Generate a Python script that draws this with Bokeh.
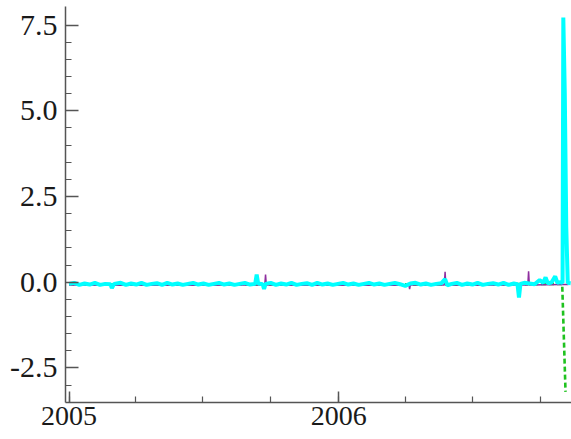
import pandas as pd
from bokeh.plotting import figure
from bokeh.models import Range1d, FixedTicker, DatetimeTickFormatter, PrintfTickFormatter
from bokeh.embed import file_html
from bokeh.resources import INLINE

# ---- data ----
cyan_dates = ["2005-01-01", "2005-01-08", "2005-01-15", "2005-01-22", "2005-01-29", "2005-02-05",
              "2005-02-12", "2005-02-19", "2005-02-26", "2005-02-28", "2005-03-03", "2005-03-12",
              "2005-03-19", "2005-03-26", "2005-04-02", "2005-04-09", "2005-04-16", "2005-04-23",
              "2005-04-30", "2005-05-07", "2005-05-14", "2005-05-21", "2005-05-28", "2005-06-04",
              "2005-06-11", "2005-06-18", "2005-06-25", "2005-07-02", "2005-07-09", "2005-07-16",
              "2005-07-23", "2005-07-30", "2005-08-06", "2005-08-13", "2005-08-20", "2005-08-27",
              "2005-09-03", "2005-09-10", "2005-09-12", "2005-09-14", "2005-09-20", "2005-09-22",
              "2005-09-24", "2005-10-01", "2005-10-08", "2005-10-15", "2005-10-22", "2005-10-29",
              "2005-11-05", "2005-11-12", "2005-11-19", "2005-11-26", "2005-12-03", "2005-12-10",
              "2005-12-17", "2005-12-24", "2005-12-31", "2006-01-07", "2006-01-14", "2006-01-21",
              "2006-01-28", "2006-02-04", "2006-02-11", "2006-02-18", "2006-02-25", "2006-03-04",
              "2006-03-11", "2006-03-18", "2006-03-25", "2006-04-01", "2006-04-08", "2006-04-15",
              "2006-04-22", "2006-04-29", "2006-05-06", "2006-05-13", "2006-05-20", "2006-05-25",
              "2006-05-28", "2006-06-03", "2006-06-10", "2006-06-17", "2006-06-24", "2006-07-01",
              "2006-07-08", "2006-07-15", "2006-07-22", "2006-07-29", "2006-08-05", "2006-08-12",
              "2006-08-19", "2006-08-26", "2006-08-31", "2006-09-02", "2006-09-04", "2006-09-09",
              "2006-09-16", "2006-09-23", "2006-09-30", "2006-10-05", "2006-10-08", "2006-10-11",
              "2006-10-16", "2006-10-21", "2006-10-24", "2006-10-28", "2006-10-31", "2006-11-01",
              "2006-11-03", "2006-11-05", "2006-11-07", "2006-11-11"]
cyan_vals = [-0.05, -0.02, -0.08, -0.04, -0.07, -0.02,
             -0.08, -0.05, -0.06, -0.17, -0.05, -0.02,
             -0.08, -0.04, -0.07, -0.02, -0.08, -0.05,
             -0.03, -0.08, -0.02, -0.07, -0.04, -0.08,
             -0.05, -0.02, -0.07, -0.04, -0.08, -0.05,
             -0.02, -0.07, -0.04, -0.08, -0.05, -0.02,
             -0.07, -0.05, 0.22, -0.04, -0.06, -0.20,
             -0.05, -0.02, -0.08, -0.04, -0.07, -0.02,
             -0.08, -0.05, -0.03, -0.08, -0.02, -0.07,
             -0.04, -0.08, -0.05, -0.02, -0.07, -0.04,
             -0.08, -0.05, -0.02, -0.07, -0.04, -0.08,
             -0.05, -0.02, -0.06, -0.11, -0.04, -0.02,
             -0.07, -0.04, -0.08, -0.05, -0.03, 0.09,
             -0.09, -0.05, -0.02, -0.08, -0.04, -0.07,
             -0.02, -0.08, -0.05, -0.03, -0.07, -0.02,
             -0.08, -0.04, -0.06, -0.45, -0.05, -0.02,
             -0.04, -0.06, 0.06, -0.02, 0.14, -0.03,
             -0.01, 0.17, -0.02, 0.00, -0.02, 7.72,
             5.50, 1.60, -0.02, -0.03]

purple_dates = ["2005-01-01", "2005-03-01", "2005-05-01", "2005-07-01", "2005-09-01", "2005-09-23",
                "2005-09-24", "2005-09-25", "2005-11-01", "2006-01-01", "2006-03-01", "2006-04-06",
                "2006-04-07", "2006-04-08", "2006-05-24", "2006-05-25", "2006-05-26", "2006-07-01",
                "2006-09-14", "2006-09-15", "2006-09-16", "2006-10-31", "2006-11-08"]
purple_vals = [-0.08, -0.09, -0.08, -0.09, -0.08, -0.08,
               0.22, -0.08, -0.09, -0.08, -0.09, -0.08,
               -0.20, -0.08, -0.08, 0.30, -0.08, -0.09,
               -0.08, 0.32, -0.08, -0.07, -0.07]

green_dates = ["2005-01-01 00:00", "2005-06-01 00:00", "2006-01-01 00:00", "2006-06-01 00:00",
               "2006-10-30 12:00", "2006-11-04 00:00"]
green_vals = [-0.06, -0.07, -0.06, -0.07, -0.05, -3.2]

year_ticks = ["2005-01-01", "2006-01-01"]
quarter_ticks = ["2005-01-01", "2005-04-01", "2005-07-01", "2005-10-01",
                 "2006-01-01", "2006-04-01", "2006-07-01", "2006-10-01"]
y_major = [-2.5, 0.0, 2.5, 5.0, 7.5]
y_minor = [-3.0, -2.5, -2.0, -1.5, -1.0, -0.5, 0.0, 0.5, 1.0, 1.5, 2.0, 2.5, 3.0,
           3.5, 4.0, 4.5, 5.0, 5.5, 6.0, 6.5, 7.0, 7.5]


def ms(ds):
    return [pd.Timestamp(d).value / 1e6 for d in ds]


def dt(ds):
    return [pd.Timestamp(d) for d in ds]


p = figure(frame_width=506, frame_height=396, x_axis_type="datetime",
           x_range=Range1d(pd.Timestamp("2004-12-27 06:00"), pd.Timestamp("2006-11-12 02:00")),
           y_range=Range1d(-3.51, 8.04),
           output_backend="svg", toolbar_location=None,
           min_border_left=65, min_border_right=0, min_border_top=6, min_border_bottom=37)
p.outline_line_color = None
p.grid.visible = False
p.background_fill_color = "white"

p.line(dt(green_dates), green_vals, color="#1fc21f", line_width=2.6, line_dash="5 3")
p.line(dt(purple_dates), purple_vals, color="#8f2f9f", line_width=1.5)
p.line(dt(cyan_dates), cyan_vals, color="#00ffff", line_width=4)

p.xaxis.ticker = FixedTicker(ticks=ms(year_ticks), minor_ticks=ms(quarter_ticks))
p.xaxis.formatter = DatetimeTickFormatter(years="%Y", months="%Y", days="%Y", hours="%Y",
                                          hourmin="%Y", minutes="%Y", minsec="%Y", seconds="%Y",
                                          milliseconds="%Y", microseconds="%Y")
p.yaxis.ticker = FixedTicker(ticks=y_major, minor_ticks=y_minor)
p.yaxis.formatter = PrintfTickFormatter(format="%.1f")

for ax in (p.xaxis[0], p.yaxis[0]):
    ax.axis_line_color = "#555555"
    ax.axis_line_width = 1.5
    ax.major_tick_line_color = "#555555"
    ax.minor_tick_line_color = "#555555"
    ax.major_tick_line_width = 1.5
    ax.minor_tick_line_width = 1.2
    ax.major_tick_out = 0
    ax.minor_tick_out = 0
    ax.minor_tick_in = 6
    ax.major_label_text_font = "Liberation Serif"
    ax.major_label_text_color = "#1a1a1a"

p.yaxis.major_label_text_font_size = "30px"
p.xaxis.major_label_text_font_size = "28px"
p.xaxis.major_tick_in = 11
p.yaxis.major_tick_in = 13
p.xaxis.major_label_standoff = 4
p.yaxis.major_label_standoff = 8

open("out.html", "w").write(file_html(p, INLINE))
